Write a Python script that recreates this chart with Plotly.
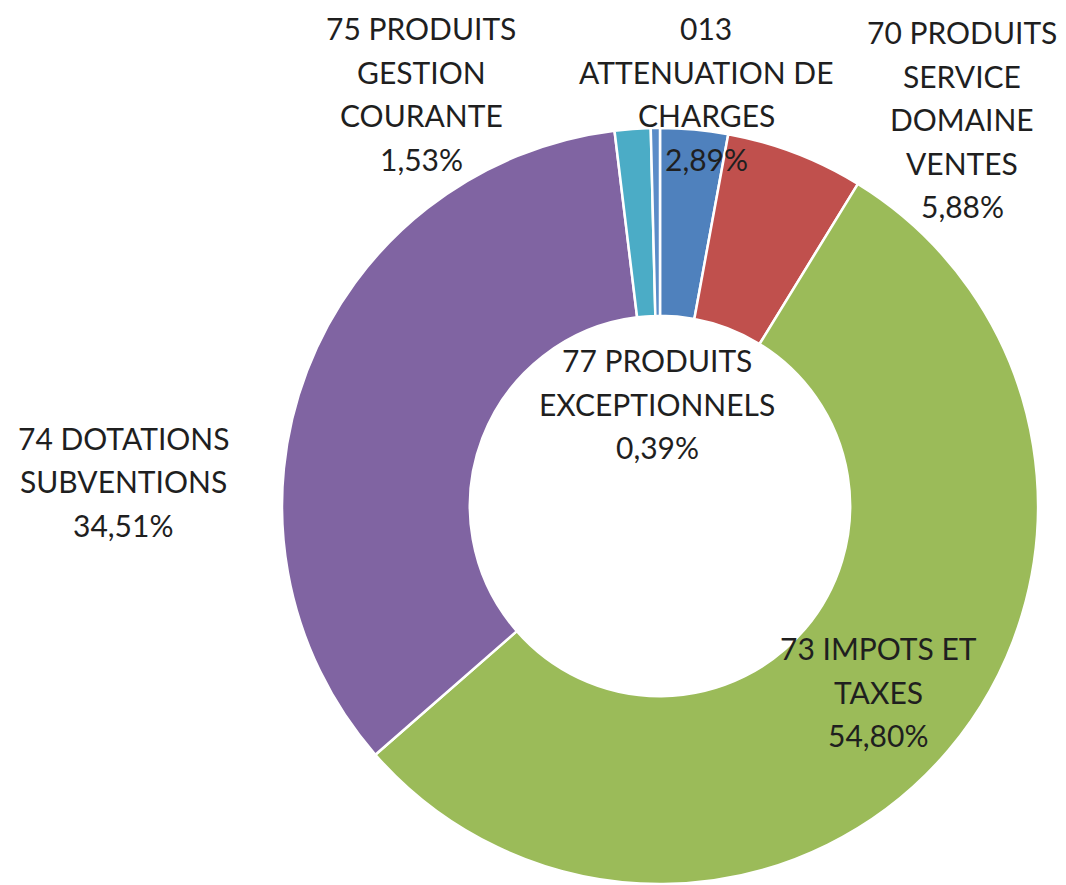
import plotly.graph_objects as go

# ---- data ----
categories = [
    "013\nATTENUATION DE\nCHARGES",
    "70 PRODUITS\nSERVICE\nDOMAINE\nVENTES",
    "73 IMPOTS ET\nTAXES",
    "74 DOTATIONS\nSUBVENTIONS",
    "75 PRODUITS\nGESTION\nCOURANTE",
    "77 PRODUITS\nEXCEPTIONNELS",
]
values = [2.89, 5.88, 54.80, 34.51, 1.53, 0.39]
colors = ["#4F81BD", "#C0504D", "#9BBB59", "#8064A2", "#4BACC6", "#5B8CC8"]

# label anchor (pixel centre x, first-line centre y) in page pixels
label_pos = [
    (706, 28),
    (962, 32),
    (878, 648),
    (123, 438),
    (421, 28),
    (657, 360),
]

W, H = 1066, 885
OFF = 8  # browser default body margin
cx, cy, R = 660 - OFF, 506 - OFF, 378
line_step = 43.5

fig = go.Figure()
fig.add_trace(go.Pie(
    labels=[c.replace("\n", " ") for c in categories],
    values=values,
    sort=False,
    direction="clockwise",
    rotation=0,
    hole=0.503,
    marker=dict(colors=colors, line=dict(color="white", width=2.5)),
    textinfo="none",
    showlegend=False,
    domain=dict(x=[(cx - R) / W, (cx + R) / W],
                y=[(H - cy - R) / H, (H - cy + R) / H]),
))

annotations = []
for cat, val, (px, py) in zip(categories, values, label_pos):
    lines = cat.split("\n") + [f"{val:.2f}".replace(".", ",") + "%"]
    for i, ln in enumerate(lines):
        annotations.append(dict(
            x=(px - OFF) / W, y=1 - (py - OFF + i * line_step) / H,
            xref="paper", yref="paper",
            text=ln, showarrow=False,
            xanchor="center", yanchor="middle",
            font=dict(family="Lato, Open Sans, sans-serif", size=30, color="#1f1f1f"),
        ))

fig.update_layout(
    width=W, height=H,
    margin=dict(l=0, r=0, t=0, b=0),
    paper_bgcolor="white",
    plot_bgcolor="white",
    annotations=annotations,
)

fig.write_html("out.html")
